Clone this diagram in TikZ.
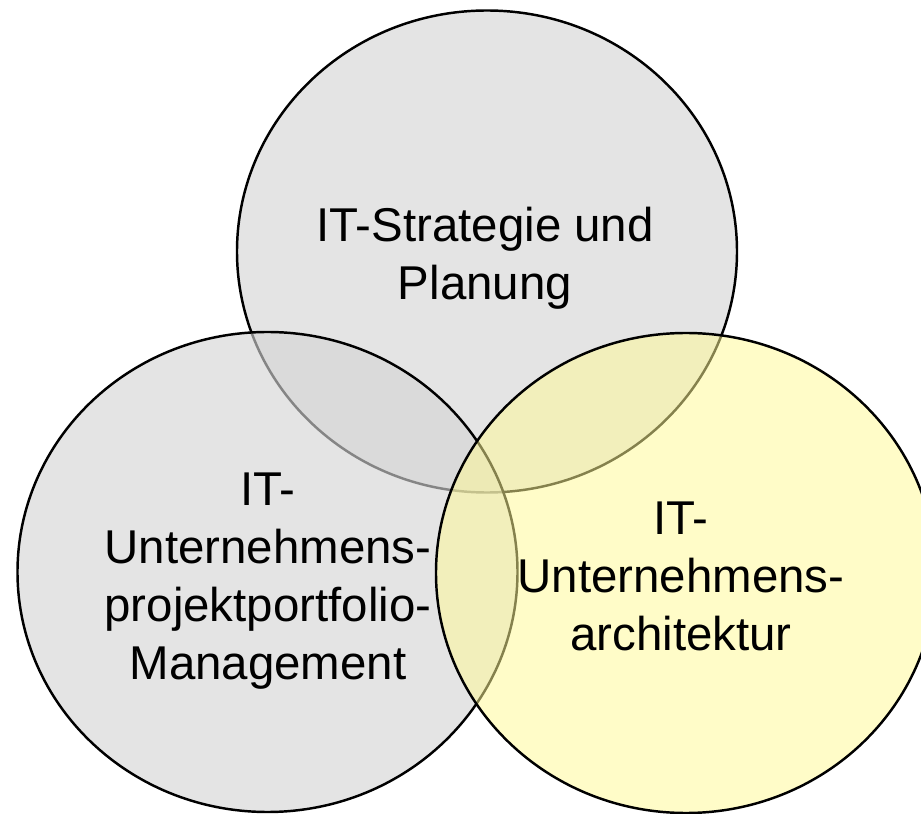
\documentclass[tikz,border=0pt]{standalone}
\usepackage{fontspec}
\setmainfont{Liberation Sans}
\definecolor{venngray}{RGB}{212,212,212}
\definecolor{vennyellow}{RGB}{255,249,149}

\begin{document}
\begin{tikzpicture}[x=0.02cm,y=-0.02cm,
		greyset/.style={draw=black,line width=1.4pt,fill=venngray,fill opacity=0.63},
		yellowset/.style={draw=black,line width=1.4pt,fill=vennyellow,fill opacity=0.52},
		setlabel/.style={align=center,inner sep=0pt,text=black,font=\fontsize{27pt}{33pt}\selectfont}]

		\useasboundingbox (0,0) rectangle (921,814);
		\clip (0,0) rectangle (921,814);

		\filldraw[greyset] (487,251.5) ellipse [x radius=250, y radius=241];
		\filldraw[greyset] (267.5,572) ellipse [x radius=250, y radius=240];
		\filldraw[yellowset] (686,573) ellipse [x radius=250, y radius=240];

		\node[setlabel] (strategie) at (485,258) {IT-Strategie und\\Planung};
		\node[setlabel] (portfolio) at (268,581) {IT-\\Unternehmens-\\projektportfolio-\\Management};
		\node[setlabel] (architektur) at (681,576) {IT-\\Unternehmens-\\architektur};

\end{tikzpicture}
\end{document}
